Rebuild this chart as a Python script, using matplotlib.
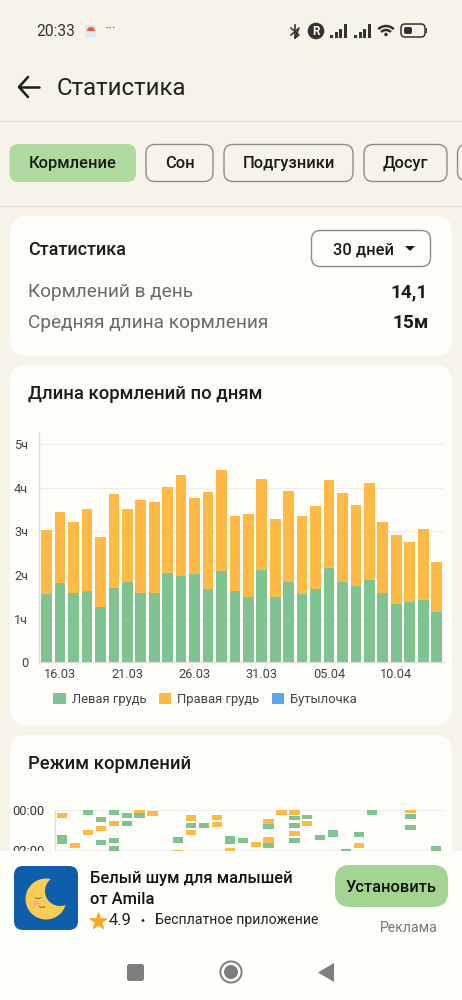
import matplotlib
matplotlib.use("Agg")
import matplotlib.pyplot as plt
from matplotlib.patches import FancyBboxPatch, Circle, Polygon, Rectangle, Wedge, Arc
from matplotlib.lines import Line2D

plt.rcParams['font.family'] = ['Roboto', 'DejaVu Sans']

W, H = 462, 1000
BG = '#F8F3E8'; CARD = '#FEFDFA'; GREEN = '#7FC391'; ORANGE = '#FFBA45'; BLUE = '#5AA9E6'
CHIP = '#B0D9A0'; INK = '#1C1B18'; GREY = '#6A6A66'

# ---- Chart 1: feeding length per day (hours)
days = ['15.03','16.03','17.03','18.03','19.03','20.03','21.03','22.03','23.03','24.03',
        '25.03','26.03','27.03','28.03','29.03','30.03','31.03','01.04','02.04','03.04',
        '04.04','05.04','06.04','07.04','08.04','09.04','10.04','11.04','12.04','13.04']
left_breast = [1.565,1.82,1.58,1.63,1.275,1.71,1.84,1.595,1.595,2.05,1.985,2.03,1.68,2.10,1.63,
               1.49,2.11,1.50,1.85,1.57,1.67,2.16,1.83,1.74,1.89,1.58,1.34,1.38,1.43,1.15]
right_breast = [1.475,1.62,1.64,1.89,1.605,2.15,1.67,2.125,2.075,1.97,2.305,1.73,2.21,2.31,1.71,
                1.90,2.09,1.78,2.07,1.79,1.90,2.01,2.04,1.86,2.21,1.64,1.58,1.38,1.63,1.14]
bottle = [0.0] * 30
hour_ticks = [0, 1, 2, 3, 4, 5]
hour_labels = ['0', '1ч', '2ч', '3ч', '4ч', '5ч']
date_ticks = ['16.03', '21.03', '26.03', '31.03', '05.04', '10.04']

# ---- Chart 2: feeding schedule (day index, start hour, duration hours)
left_day = [0,2,3,3,4,4,4,5,5,6,9,10,11,13,14,16,16,18,18,18,19,20,21,22,23,24,27,27,29]
left_start = [1.27,0,.35,1.5,0,1.42,1.78,.13,.53,.13,1.33,.65,.65,1.32,1.42,.7,1.65,.28,.63,1.42,.23,1.25,1.0,1.97,1.1,0,.18,.75,1.8]
left_dur = [.43,.23,.25,.25,.23,.23,.25,.25,.25,.28,.33,.25,.25,.38,.25,.25,.25,.23,.25,.25,.23,.25,.33,.25,.25,.23,.25,.25,.25]
right_day = [0,1,2,3,4,6,7,9,10,10,12,12,13,15,16,16,17,18,18,19,23,27]
right_start = [.13,1.67,1.02,.82,.53,0,.03,2.02,.23,1.0,.23,.58,1.88,1.62,.43,1.37,0,0,1.05,.53,1.65,0]
right_dur = [.25,.25,.25,.25,.25,.13,.25,.25,.33,.25,.27,.25,.28,.25,.25,.28,.23,.23,.25,.25,.25,.17]
sched_ticks = [0, 2]
sched_labels = ['00:00', '02:00']

fig = plt.figure(figsize=(W / 100, H / 100), dpi=100, facecolor=BG)


def full_axes(z):
    a = fig.add_axes([0, 0, 1, 1], zorder=z)
    a.set_xlim(0, W); a.set_ylim(H, 0); a.axis('off'); a.patch.set_alpha(0)
    return a


def pos(x0, y0, x1, y1):
    return [x0 / W, 1 - y1 / H, (x1 - x0) / W, (y1 - y0) / H]


def T(a, x, y, s, px, color=INK, ha='left', weight='normal', **kw):
    a.text(x, y, s, fontsize=px * 0.72, color=color, ha=ha, va='baseline', fontweight=weight, **kw)


def rbox(a, x0, y0, x1, y1, r, fc, ec='none', lw=0, z=1):
    a.add_patch(FancyBboxPatch((x0 + r, y0 + r), x1 - x0 - 2 * r, y1 - y0 - 2 * r,
                               boxstyle=f'round,pad={r},rounding_size={r}', fc=fc, ec=ec, lw=lw, zorder=z))


# ---------- background UI
bg = full_axes(0)
T(bg, 36, 36.5, '20:33', 15.5, '#333333')
bg.add_patch(Rectangle((85, 25), 11, 12, fc='#DCE6F5', ec='none'))
bg.add_patch(Wedge((91, 31), 4, 180, 360, fc='#E0604C', ec='none', transform=bg.transData))
T(bg, 105, 34, '···', 15, '#444444')
# status icons
bg.plot([295, 295], [25, 38], color='#333333', lw=1.2)
bg.plot([291, 299, 295, 299, 291], [28, 35, 38, 28, 35][:5], color='#333333', lw=1.1)
bg.add_patch(Circle((316, 31), 8.3, fc='#333333', ec='none'))
bg.text(316, 31.5, 'R', color='white', fontsize=8.5, fontweight='bold', ha='center', va='center')
for x0 in (330, 354):
    for i, h in enumerate((3, 6, 9, 14)):
        bg.add_patch(Rectangle((x0 + i * 4.5, 38 - h), 3, h, fc='#333333', ec='none'))
for r, lw in ((11, 1.8), (7, 1.8)):
    bg.add_patch(Arc((386, 37), 2 * r, 2 * r, theta1=225, theta2=315, color='#333333', lw=lw))
bg.add_patch(Circle((386, 34.5), 1.8, fc='#333333'))
rbox(bg, 401, 24, 425, 37, 4, 'none', '#333333', 1.1)
rbox(bg, 404, 27, 412, 34, 2, '#333333')
bg.add_patch(Rectangle((425.5, 28), 1.3, 5, fc='#333333'))
# back arrow + title
bg.plot([19, 39], [87, 87], color=INK, lw=1.8, solid_capstyle='round')
bg.plot([28, 19, 28], [77, 87, 97], color=INK, lw=1.8, solid_capstyle='round', solid_joinstyle='round')
T(bg, 57, 95, 'Статистика', 24, '#222222')
bg.plot([0, W], [120.5, 120.5], color='#E8E4DA', lw=1)
bg.plot([0, W], [205.5, 205.5], color='#E8E4DA', lw=1)
# chips
rbox(bg, 9.5, 144, 136, 182, 9, CHIP)
T(bg, 72.5, 168, 'Кормление', 16.5, ha='center', weight=500)
for x0, x1, label in ((146, 213, 'Сон'), (224, 353, 'Подгузники'), (364, 447, 'Досуг')):
    rbox(bg, x0, 144.5, x1, 181.5, 9, 'none', '#918D82', 1.0)
    T(bg, (x0 + x1) / 2, 168, label, 16.5, ha='center', weight=500)
rbox(bg, 457.5, 144.5, 480, 181.5, 9, 'none', '#918D82', 1.0)
# cards
rbox(bg, 10, 216, 452, 356, 17, CARD)
rbox(bg, 10, 365, 452, 725, 17, CARD)
rbox(bg, 10, 735, 452, 1010, 17, CARD)
T(bg, 28.5, 255, 'Статистика', 18, weight=500)
rbox(bg, 311.5, 230.5, 430.5, 266.5, 9, 'none', '#8C8C88', 1.0)
T(bg, 333, 255, '30 дней', 16.5, weight=500)
bg.add_patch(Polygon([(405, 246), (415, 246), (410, 251)], fc=INK, ec='none'))
T(bg, 28.5, 297, 'Кормлений в день', 19, GREY)
T(bg, 428, 297, '14,1', 19, ha='right', weight='bold')
T(bg, 28.5, 328, 'Средняя длина кормления', 19, GREY)
T(bg, 429, 328, '15м', 19, ha='right', weight='bold')
T(bg, 28.5, 399, 'Длина кормлений по дням', 18.5, weight=500)
T(bg, 28.5, 769, 'Режим кормлений', 18.5, weight=500)

# ---------- chart 1
ax = fig.add_axes(pos(39.3, 432, 444, 662.3), zorder=1)
ax.patch.set_alpha(0)
xs = list(range(len(days)))
bars_l = ax.bar(xs, left_breast, width=0.795, color=GREEN, label='Левая грудь', zorder=3)
bars_r = ax.bar(xs, right_breast, width=0.795, bottom=left_breast, color=ORANGE, label='Правая грудь', zorder=3)
bars_b = ax.bar(xs, bottle, width=0.795, color=BLUE, label='Бутылочка', zorder=3)
ax.set_xlim(-0.55, 29.55)
ax.set_ylim(0, 5.275)
ax.set_yticks(hour_ticks, hour_labels)
ax.set_xticks([days.index(d) for d in date_ticks], date_ticks)
ax.tick_params(axis='both', length=0, labelsize=9.2, labelcolor='#444444')
ax.tick_params(axis='y', pad=8)
ax.tick_params(axis='x', pad=4)
ax.grid(axis='y', color='#EFEFEC', lw=1, zorder=0)
for s in ('top', 'right'):
    ax.spines[s].set_visible(False)
for s in ('left', 'bottom'):
    ax.spines[s].set_color('#DDDDDA'); ax.spines[s].set_linewidth(1)
fig.legend(handles=[bars_l, bars_r, bars_b], loc='center', ncols=3, frameon=False,
           bbox_to_anchor=(205 / W, 1 - 699.5 / H), fontsize=9.4, labelcolor='#444444',
           handlelength=0.95, handleheight=0.95, handletextpad=0.45, columnspacing=0.95, borderpad=0)

# ---------- chart 2
ax2 = fig.add_axes(pos(55.3, 810, 444, 870), zorder=1)
ax2.patch.set_alpha(0)
ax2.bar(left_day, left_dur, bottom=left_start, width=0.8, color=GREEN, zorder=3)
ax2.bar(right_day, right_dur, bottom=right_start, width=0.8, color=ORANGE, zorder=3)
ax2.set_xlim(-0.54, 29.6)
ax2.set_ylim(3.0, 0)
ax2.set_yticks(sched_ticks, sched_labels)
ax2.set_xticks([])
ax2.tick_params(axis='y', length=0, labelsize=9.4, labelcolor='#333333', pad=8)
ax2.grid(axis='y', color='#EFEFEC', lw=1, zorder=0)
for s in ('top', 'right', 'bottom'):
    ax2.spines[s].set_visible(False)
ax2.spines['left'].set_color('#DDDDDA')

# ---------- ad banner
top = full_axes(3)
top.add_patch(Rectangle((0, 851), W, 149, fc='#FEFEFB', ec='none'))
rbox(top, 14, 866, 78, 930, 9, '#0F5EAC', z=2)
top.add_patch(Circle((46, 899), 20.5, fc='#F8CD55', ec='none', zorder=3))
top.add_patch(Circle((60, 891), 15, fc='#0F5EAC', ec='none', zorder=4))
top.add_patch(Circle((36, 903), 2.6, fc='#F4A9A0', ec='none', zorder=5))
top.add_patch(Arc((38, 896), 7, 5, theta1=20, theta2=160, color='#8A6A20', lw=0.7, zorder=5))
top.add_patch(Arc((42, 905), 6, 5, theta1=20, theta2=160, color='#8A6A20', lw=0.7, zorder=5))
T(top, 90, 883, 'Белый шум для малышей', 16.5, '#111111', weight=500)
T(top, 90, 904, 'от Amila', 16.5, '#111111', weight=500)
top.scatter([98], [921], marker='*', s=150, color='#F9A72B', zorder=5)
T(top, 109, 925, '4.9', 16.5, '#222222')
top.add_patch(Circle((143, 920.5), 1.4, fc='#222222'))
T(top, 155, 924, 'Бесплатное приложение', 14, '#222222')
rbox(top, 335, 865, 448, 907, 15, '#A3D491', z=2)
T(top, 391.5, 892, 'Установить', 16.5, '#111111', ha='center', weight=500)
T(top, 438, 932, 'Реклама', 14, '#777777', ha='right')
# nav bar
rbox(top, 127, 964, 144, 981, 2.5, '#7E7E7E', z=2)
top.add_patch(Circle((231, 972), 10.6, fc='none', ec='#7E7E7E', lw=1.4))
top.add_patch(Circle((231, 972), 7, fc='#7E7E7E', ec='none'))
top.add_patch(Polygon([(334, 963), (334, 982), (318, 972.5)], fc='#7E7E7E', ec='none'))

fig.savefig('out.png', dpi=100, facecolor=BG)
